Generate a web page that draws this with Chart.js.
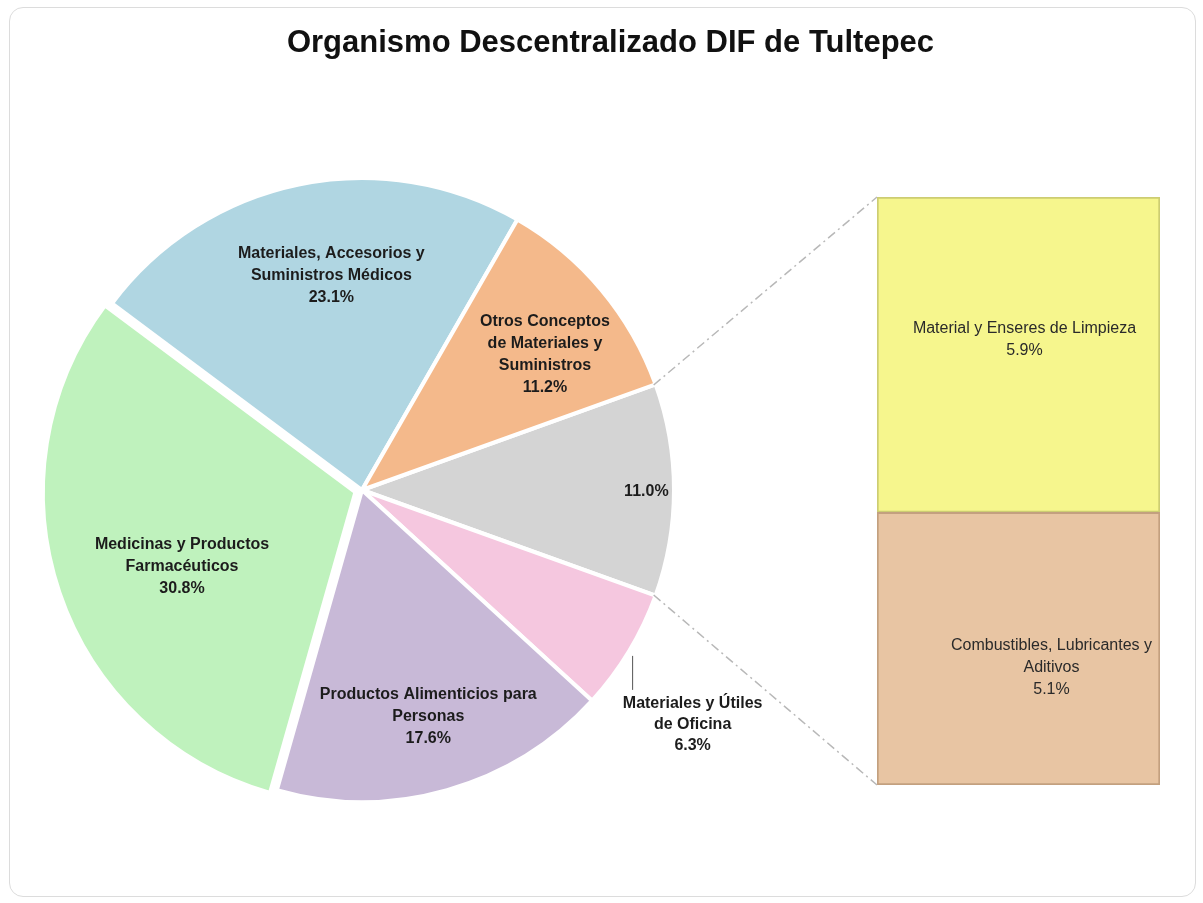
<!DOCTYPE html>
<html>
<head>
<meta charset="utf-8">
<script src="https://cdn.jsdelivr.net/npm/chart.js@4/dist/chart.umd.min.js"></script>
<style>
  html, body { margin: 0; padding: 0; background: #fff; }
  #wrap { position: relative; width: 1203px; height: 903px; }
  #frame { position: absolute; left: 9px; top: 7px; width: 1185px; height: 888px;
           border: 1.5px solid #dcdcdc; border-radius: 14px; }
  .layer { position: absolute; left: 0; top: 0; width: 1203px; height: 903px; }
</style>
</head>
<body>
<div id="wrap">
  <div id="frame"></div>
  <div class="layer"><canvas id="pie"></canvas></div>
  <div class="layer"><canvas id="bar"></canvas></div>
</div>
<script>
var chartTitle = 'Organismo Descentralizado DIF de Tultepec';

// pie slices, clockwise from the grey "otros" slice
var pieLabels = [
  [],
  ['Materiales y Útiles', 'de Oficina'],
  ['Productos Alimenticios para', 'Personas'],
  ['Medicinas y Productos', 'Farmacéuticos'],
  ['Materiales, Accesorios y', 'Suministros Médicos'],
  ['Otros Conceptos', 'de Materiales y', 'Suministros']
];
var pieValues = [11.0, 6.3, 17.6, 30.8, 23.1, 11.2];
var pieColors = ['#d4d4d4', '#f5c7df', '#c8b9d7', '#bff2bd', '#b0d6e2', '#f4b98b'];

// breakdown of the grey slice, bottom to top
var barLabels = [
  ['Combustibles, Lubricantes y', 'Aditivos'],
  ['Material y Enseres de Limpieza']
];
var barValues = [5.1, 5.9];
var barColors = ['#e8c5a3', '#f6f68d'];
var barEdges = ['#c3a07f', '#cdcd72'];

var FONT = "'Liberation Sans', Arial, sans-serif";

function pct(v) { return v.toFixed(1) + '%'; }

function drawLines(ctx, lines, x, y, lh) {
  for (var i = 0; i < lines.length; i++) {
    ctx.fillText(lines[i], x, y + (i - (lines.length - 1) / 2) * lh);
  }
}

// where each slice label sits: fraction of radius along the mid angle plus a nudge
var labelSpots = [
  {f: 0.905, dx: 2, dy: 2},
  null,
  {f: 0.755, dx: 2, dy: 0},
  {f: 0.626, dx: 5, dy: 14},
  {f: 0.69, dx: 13, dy: -4},
  {f: 0.74, dx: 6, dy: 13}
];

var pieText = {
  id: 'pieText',
  afterDraw: function(chart) {
    var ctx = chart.ctx;
    var arcs = chart.getDatasetMeta(0).data;
    ctx.save();
    ctx.fillStyle = '#111';
    ctx.textAlign = 'center';
    ctx.textBaseline = 'middle';
    ctx.font = 'bold 31px ' + FONT;
    ctx.fillText(chartTitle, chart.width / 2 + 9, 43);

    ctx.font = 'bold 16px ' + FONT;
    ctx.fillStyle = '#1c1c1c';
    arcs.forEach(function(arc, i) {
      var mid = (arc.startAngle + arc.endAngle) / 2;
      var lines = pieLabels[i].concat([pct(pieValues[i])]);
      var spot = labelSpots[i];
      if (spot) {
        var r = arc.outerRadius * spot.f;
        drawLines(ctx, lines, arc.x + Math.cos(mid) * r + spot.dx, arc.y + Math.sin(mid) * r + spot.dy, 22);
      } else {
        // small slice: leader line then label below it
        var ex = arc.x + Math.cos(mid) * (arc.outerRadius + 3);
        var ey = arc.y + Math.sin(mid) * (arc.outerRadius + 3);
        ctx.strokeStyle = '#555';
        ctx.lineWidth = 1;
        ctx.beginPath();
        ctx.moveTo(ex + 1, ey + 3);
        ctx.lineTo(ex + 1, ey + 37);
        ctx.stroke();
        drawLines(ctx, lines, ex + 61, ey + 37 + 14 + 21, 21);
      }
    });
    ctx.restore();
  }
};

var pieChart = new Chart(document.getElementById('pie'), {
  type: 'pie',
  data: {
    labels: pieLabels,
    datasets: [{
      data: pieValues,
      backgroundColor: pieColors,
      borderColor: '#ffffff',
      borderWidth: 4,
      offset: [0, 0, 0, 28, 0, 0],
      radius: 312
    }]
  },
  options: {
    responsive: true,
    maintainAspectRatio: false,
    animation: false,
    rotation: 70.2,
    layout: { padding: { left: 42, right: 521, top: 170, bottom: 93 } },
    plugins: { legend: { display: false }, tooltip: { enabled: false } },
    events: []
  },
  plugins: [pieText]
});

var barText = {
  id: 'barText',
  afterDatasetsDraw: function(chart) {
    var ctx = chart.ctx;
    ctx.save();
    ctx.fillStyle = '#2a2a2a';
    ctx.textAlign = 'center';
    ctx.textBaseline = 'middle';
    ctx.font = '16px ' + FONT;
    var nudge = [{dx: 33, dy: 19}, {dx: 6, dy: -15}];
    chart.data.datasets.forEach(function(ds, i) {
      var el = chart.getDatasetMeta(i).data[0];
      var midY = (el.y + el.base) / 2;
      var lines = barLabels[i].concat([pct(barValues[i])]);
      drawLines(ctx, lines, el.x + nudge[i].dx, midY + nudge[i].dy, 22);
    });

    // dash-dot connectors from the grey slice edges to the bar corners
    var g = pieChart.getDatasetMeta(0).data[0];
    var r = g.outerRadius - 2;
    var top = chart.getDatasetMeta(1).data[0];
    var bot = chart.getDatasetMeta(0).data[0];
    var left = top.x - top.width / 2;
    ctx.strokeStyle = '#b8b8b8';
    ctx.lineWidth = 1.5;
    ctx.setLineDash([9, 4, 2, 4]);
    ctx.beginPath();
    ctx.moveTo(g.x + Math.cos(g.startAngle) * r, g.y + Math.sin(g.startAngle) * r);
    ctx.lineTo(left, top.y);
    ctx.moveTo(g.x + Math.cos(g.endAngle) * r, g.y + Math.sin(g.endAngle) * r);
    ctx.lineTo(left, bot.base);
    ctx.stroke();
    ctx.restore();
  }
};

var barTotal = barValues.reduce(function(a, b) { return a + b; }, 0);

new Chart(document.getElementById('bar'), {
  type: 'bar',
  data: {
    labels: [''],
    datasets: barValues.map(function(v, i) {
      return {
        label: barLabels[i].join(' '),
        data: [v],
        backgroundColor: barColors[i],
        borderColor: barEdges[i],
        borderWidth: 2,
        borderSkipped: false,
        barPercentage: 1,
        categoryPercentage: 1
      };
    })
  },
  options: {
    responsive: true,
    maintainAspectRatio: false,
    animation: false,
    layout: { padding: { left: 877, right: 43, top: 197, bottom: 118 } },
    scales: {
      x: { stacked: true, display: false },
      y: { stacked: true, display: false, min: 0, max: barTotal }
    },
    plugins: { legend: { display: false }, tooltip: { enabled: false } },
    events: []
  },
  plugins: [barText]
});
</script>
</body>
</html>
